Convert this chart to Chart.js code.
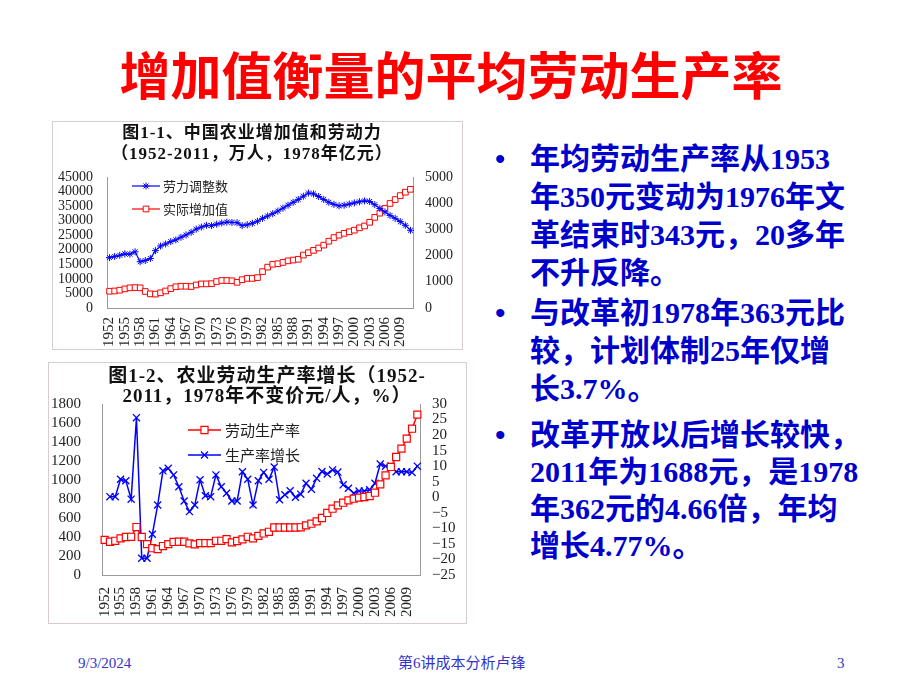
<!DOCTYPE html>
<html lang="zh-CN">
<head>
<meta charset="UTF-8">
<title>增加值衡量的平均劳动生产率</title>
<script src="https://cdn.jsdelivr.net/npm/chart.js@4.4.1/dist/chart.umd.min.js"></script>
<style>
  body {
    margin: 0;
    width: 920px;
    height: 690px;
    position: relative;
    overflow: hidden;
    background: #fff;
    font-family: 'Liberation Serif', 'Noto Sans CJK SC', serif;
  }
  .slide-title {
    position: absolute;
    left: 0;
    width: 902px;
    top: 41px;
    text-align: center;
    font-family: 'Noto Sans CJK SC', sans-serif;
    font-weight: 700;
    font-size: 51px;
    line-height: 64px;
    color: #ff0000;
  }
  .frame {
    position: absolute;
    border: 1px solid #d8cbd3;
    background: #fff;
  }
  .frame .box { position: relative; }
  .ctitle {
    position: absolute;
    text-align: center;
    font-family: 'Liberation Serif', 'Noto Sans CJK SC', serif;
    font-weight: 700;
    color: #111;
    letter-spacing: 1px;
    white-space: nowrap;
  }
  .para {
    position: absolute;
    left: 530px;
    font-family: 'Liberation Serif', 'Noto Sans CJK SC', serif;
    font-weight: 700;
    font-size: 30px;
    line-height: 38px;
    color: #0000cc;
    white-space: nowrap;
  }
  .bullet {
    position: absolute;
    left: -35px;
    top: 0;
    font-family: 'Liberation Sans', sans-serif;
    font-weight: 400;
  }
  .foot {
    position: absolute;
    top: 653px;
    font-size: 15px;
    line-height: 20px;
    color: #3333cc;
    white-space: nowrap;
  }
</style>
</head>
<body>
  <div class="slide-title">增加值衡量的平均劳动生产率</div>

  <div class="frame" style="left:52px; top:121px;">
    <div class="box" style="width:409px; height:227px;"><canvas id="chart1"></canvas></div>
  </div>
  <div class="ctitle" style="left:52px; top:122px; width:400px; font-size:17px; line-height:21px;">
    图1-1、中国农业增加值和劳动力<br>（1952-2011，万人，1978年亿元）
  </div>

  <div class="frame" style="left:48px; top:362px;">
    <div class="box" style="width:417px; height:260px;"><canvas id="chart2"></canvas></div>
  </div>
  <div class="ctitle" style="left:67px; top:366px; width:400px; font-size:19px; line-height:20px;">
    图1-2、农业劳动生产率增长（1952-<br>2011，1978年不变价元/人，%）
  </div>

  <div class="para" style="top:140px;"><span class="bullet">•</span>年均劳动生产率从1953<br>年350元变动为1976年文<br>革结束时343元，20多年<br>不升反降。</div>
  <div class="para" style="top:294px;"><span class="bullet">•</span>与改革初1978年363元比<br>较，计划体制25年仅增<br>长3.7%。</div>
  <div class="para" style="top:416px; line-height:37px;"><span class="bullet">•</span>改革开放以后增长较快，<br>2011年为1688元，是1978<br>年362元的4.66倍，年均<br>增长4.77%。</div>

  <div class="foot" style="left:78px;">9/3/2024</div>
  <div class="foot" style="left:398px;">第6讲成本分析卢锋</div>
  <div class="foot" style="left:837px;">3</div>

<script>
  // categories
  const years = [1952, 1953, 1954, 1955, 1956, 1957, 1958, 1959, 1960, 1961,
                 1962, 1963, 1964, 1965, 1966, 1967, 1968, 1969, 1970, 1971,
                 1972, 1973, 1974, 1975, 1976, 1977, 1978, 1979, 1980, 1981,
                 1982, 1983, 1984, 1985, 1986, 1987, 1988, 1989, 1990, 1991,
                 1992, 1993, 1994, 1995, 1996, 1997, 1998, 1999, 2000, 2001,
                 2002, 2003, 2004, 2005, 2006, 2007, 2008, 2009, 2010, 2011];

  // 图1-1: 劳力调整数 (万人), 实际增加值 (1978年亿元)
  const labor = [17300, 17700, 18100, 18600, 18500, 19300, 15900, 16300, 17000, 19700,
                 21300, 22000, 22800, 23400, 24300, 25100, 26000, 27100, 27800, 28400,
                 28300, 28800, 29200, 29500, 29400, 29300, 28300, 28600, 29100, 29800,
                 30800, 31600, 32400, 33300, 34300, 35300, 36300, 37300, 38400, 39500,
                 39200, 38300, 37300, 36300, 35600, 35100, 35300, 35700, 36100, 36500,
                 36800, 36600, 35500, 34200, 33000, 31800, 30800, 29700, 28400, 26700];
  const valueAdded = [640, 650, 680, 730, 770, 780, 770, 630, 540, 530,
                      580, 650, 740, 810, 830, 830, 820, 880, 920, 920,
                      930, 1010, 1050, 1050, 1040, 980, 1080, 1130, 1130, 1160,
                      1390, 1560, 1670, 1690, 1740, 1800, 1830, 1860, 2020, 2110,
                      2200, 2290, 2400, 2550, 2690, 2780, 2850, 2910, 2970, 3060,
                      3130, 3270, 3460, 3620, 3800, 3990, 4140, 4290, 4420, 4530];

  // 图1-2: 劳动生产率 (元/人), 生产率增长 (%)
  const productivity = [370, 350, 360, 385, 400, 402, 505, 400, 325, 282,
                        273, 305, 325, 348, 350, 350, 333, 322, 335, 335,
                        335, 360, 360, 377, 343, 358, 375, 402, 386, 412,
                        437, 455, 500, 500, 500, 500, 500, 502, 523, 540,
                        565, 600, 653, 698, 733, 761, 786, 803, 814, 821,
                        831, 866, 954, 1049, 1137, 1242, 1330, 1435, 1540, 1688];
  const growth = [null, 0.2, 0.2, 5.8, 5.3, -0.6, 25.6, -19.6, -19.6, -11.9,
                  -2.5, 8.5, 9.3, 7.2, 3.4, -1.2, -4.6, -2.5, 5.6, 0.5,
                  0.2, 7.2, 3.4, 1.3, -1.2, -1.2, 8.2, 5.8, -2.5, 5.3,
                  8, 5.8, 9.7, -0.8, 0.8, 2.1, 0, 1, 4.5, 2.6,
                  6.1, 8.3, 7.5, 8.8, 8.1, 4, 2.9, 1.3, 2, 2,
                  2.4, 4.5, 10.7, 10, 10, 8.2, 8.2, 8.2, 8, 10];

  const axisGray = '#9a9a9a';
  const tickColor = '#222';
  const serif = "'Liberation Serif', serif";

  // legend drawn inside the plot: line + marker + label
  const insideLegend = {
    id: 'insideLegend',
    afterDatasetsDraw(chart, args, opts) {
      const ctx = chart.ctx;
      const area = chart.chartArea;
      ctx.save();
      opts.order.forEach((di, i) => {
        const ds = chart.data.datasets[di];
        const y = area.top + opts.y + i * opts.gap;
        const x0 = area.left + opts.x;
        const x1 = x0 + opts.len;
        ctx.strokeStyle = ds.borderColor;
        ctx.lineWidth = ds.borderWidth;
        ctx.beginPath();
        ctx.moveTo(x0, y);
        ctx.lineTo(x1, y);
        ctx.stroke();
        ctx.fillStyle = ds.pointBackgroundColor;
        ctx.strokeStyle = ds.pointBorderColor;
        ctx.lineWidth = ds.pointBorderWidth;
        Chart.helpers.drawPoint(ctx, {
          pointStyle: ds.pointStyle, radius: ds.pointRadius,
          rotation: 0, borderWidth: ds.pointBorderWidth
        }, (x0 + x1) / 2, y);
        ctx.fillStyle = '#222';
        ctx.font = opts.font;
        ctx.textAlign = 'left';
        ctx.textBaseline = 'middle';
        ctx.fillText(ds.label, x1 + opts.textGap, y);
      });
      ctx.restore();
    }
  };

  function xAxis(height, pad) {
    return {
      offset: true,
      grid: { display: false, drawTicks: false },
      border: { display: true, color: axisGray },
      ticks: {
        autoSkip: false, minRotation: 90, maxRotation: 90, padding: pad,
        color: tickColor, font: { family: serif, size: 15 },
        callback: (v, i) => (i % 3 === 0 ? years[i] : '')
      },
      afterFit(s) { s.height = height; }
    };
  }

  function yAxis(pos, min, max, step, width, pad, size) {
    return {
      position: pos, min: min, max: max,
      grid: { display: false, drawTicks: false },
      border: { display: true, color: axisGray },
      ticks: {
        autoSkip: false, stepSize: step, padding: pad, color: tickColor,
        font: { family: serif, size: size, lineHeight: 1 },
        callback: v => (v < 0 ? '\u2212' + (-v) : String(v))
      },
      afterFit(s) { s.width = width; }
    };
  }

  new Chart(document.getElementById('chart1'), {
    type: 'line',
    data: {
      labels: years,
      datasets: [{
        label: '劳力调整数',
        data: labor,
        yAxisID: 'y',
        borderColor: '#0000ff',
        borderWidth: 1.2,
        pointStyle: 'star',
        pointRadius: 3.5,
        pointBorderColor: '#0000ff',
        pointBackgroundColor: '#0000ff',
        pointBorderWidth: 1
      }, {
        label: '实际增加值',
        data: valueAdded,
        yAxisID: 'y1',
        borderColor: '#ff0000',
        borderWidth: 1.2,
        pointStyle: 'rect',
        pointRadius: 4,
        pointBorderColor: '#ff0000',
        pointBackgroundColor: '#ffffff',
        pointBorderWidth: 1
      }]
    },
    options: {
      responsive: true,
      maintainAspectRatio: false,
      animation: false,
      events: [],
      layout: { padding: { top: 55, left: 0, right: 0, bottom: 0 } },
      scales: {
        x: xAxis(41, 9),
        y: yAxis('left', 0, 45000, 5000, 54, 14, 14),
        y1: yAxis('right', 0, 5000, 1000, 49, 12, 14)
      },
      plugins: {
        legend: { display: false },
        tooltip: { enabled: false },
        insideLegend: { order: [0, 1], x: 25, y: 9, gap: 23, len: 28, textGap: 3,
                        font: "13px 'Noto Sans CJK SC'" }
      }
    },
    plugins: [insideLegend]
  });

  new Chart(document.getElementById('chart2'), {
    type: 'line',
    data: {
      labels: years,
      datasets: [{
        label: '劳动生产率',
        data: productivity,
        yAxisID: 'y',
        borderColor: '#ff0000',
        borderWidth: 1.5,
        pointStyle: 'rect',
        pointRadius: 5,
        pointBorderColor: '#ff0000',
        pointBackgroundColor: '#ffffff',
        pointBorderWidth: 1.2
      }, {
        label: '生产率增长',
        data: growth,
        yAxisID: 'y1',
        borderColor: '#0000ff',
        borderWidth: 1.5,
        pointStyle: 'crossRot',
        pointRadius: 5,
        pointBorderColor: '#0000ff',
        pointBackgroundColor: '#0000ff',
        pointBorderWidth: 1.3
      }]
    },
    options: {
      responsive: true,
      maintainAspectRatio: false,
      animation: false,
      events: [],
      layout: { padding: { top: 41, left: 0, right: 0, bottom: 0 } },
      scales: {
        x: xAxis(48, 12),
        y: yAxis('left', 0, 1800, 200, 53, 21, 15),
        y1: yAxis('right', -25, 30, 5, 46, 12, 15)
      },
      plugins: {
        legend: { display: false },
        tooltip: { enabled: false },
        insideLegend: { order: [0, 1], x: 86, y: 26, gap: 25, len: 33, textGap: 4,
                        font: "15px 'Noto Sans CJK SC'" }
      }
    },
    plugins: [insideLegend]
  });
</script>
</body>
</html>
